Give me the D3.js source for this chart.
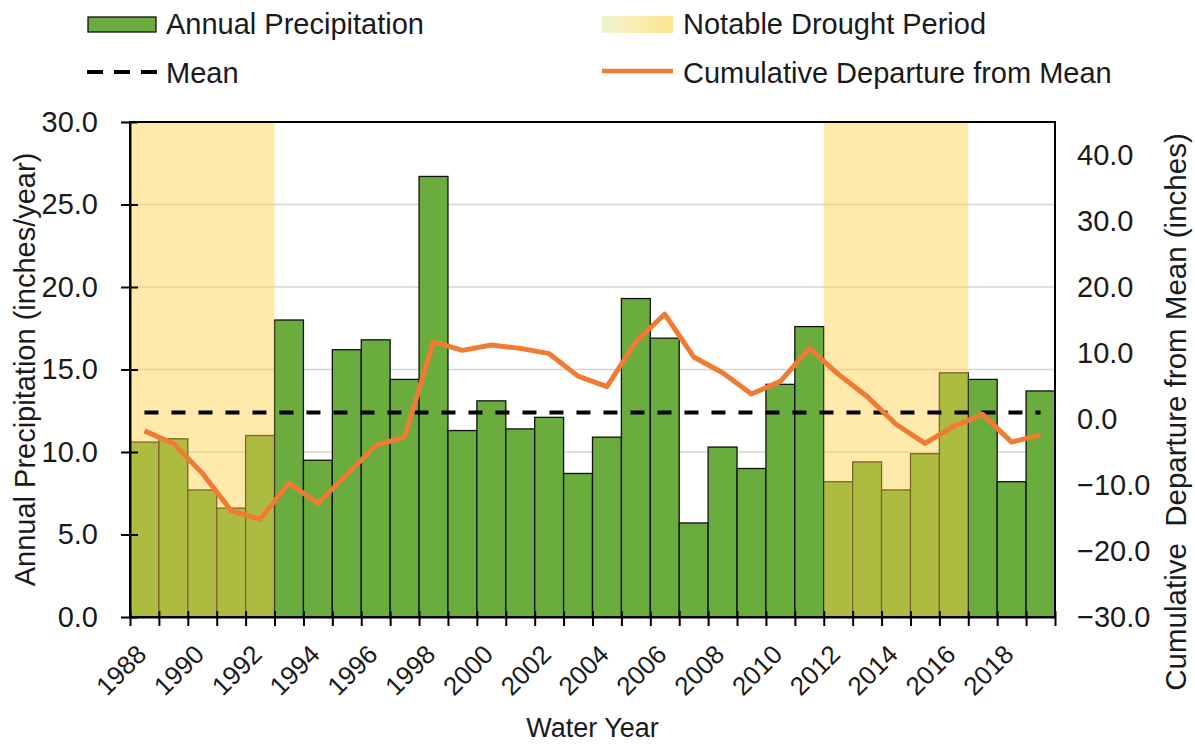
<!DOCTYPE html>
<html>
<head>
<meta charset="utf-8">
<script src="https://cdn.jsdelivr.net/npm/d3@7"></script>
<style>
  body { margin: 0; background: #fff; }
  svg { display: block; font-family: "Liberation Sans", Arial, sans-serif; }
</style>
</head>
<body>
<div id="chart"></div>
<script>
// Water years and annual precipitation (inches/year)
const years = d3.range(1988, 2020);
const precip = [10.6, 10.8, 7.7, 6.6, 11.0, 18.0, 9.5, 16.2, 16.8, 14.4,
                26.7, 11.3, 13.1, 11.4, 12.1, 8.7, 10.9, 19.3, 16.9, 5.7,
                10.3, 9.0, 14.1, 17.6, 8.2, 9.4, 7.7, 9.9, 14.8, 14.4,
                8.2, 13.7];
// Cumulative departure from mean (inches), secondary axis
const cumDeparture = [-1.8, -3.7, -8.2, -13.9, -15.2, -9.7, -12.8, -8.4, -4.0, -2.7,
                      11.7, 10.4, 11.2, 10.7, 9.9, 6.5, 4.9, 11.7, 15.9, 9.4,
                      7.0, 3.8, 5.7, 10.7, 6.8, 3.4, -0.8, -3.7, -1.1, 0.7,
                      -3.5, -2.4];
const meanPrecip = 12.4;
const droughts = [[1988, 1992], [2012, 2016]];
const leftTicks = [0, 5, 10, 15, 20, 25, 30];
const rightTicks = [-30, -20, -10, 0, 10, 20, 30, 40];

const width = 1195, height = 744;
const plot = { left: 130, right: 1055, top: 122, bottom: 617 };

const svg = d3.select("#chart").append("svg")
    .attr("width", width)
    .attr("height", height);

const x = d3.scaleBand().domain(years).range([plot.left, plot.right]).padding(0);
const xEdge = d3.scaleLinear().domain([1988, 2020]).range([plot.left, plot.right]);
const yL = d3.scaleLinear().domain([0, 30]).range([plot.bottom, plot.top]);
const yR = d3.scaleLinear().domain([-30, 45]).range([plot.bottom, plot.top]);

const GREEN = "#6aad3e";
const BAND = "#ffcf45";
const ORANGE = "#f07b32";

// gridlines
svg.append("g")
    .selectAll("line")
    .data(leftTicks.filter(d => d > 0 && d < 30))
    .join("line")
    .attr("x1", plot.left).attr("x2", plot.right)
    .attr("y1", d => yL(d)).attr("y2", d => yL(d))
    .attr("stroke", "#d6d6d6")
    .attr("stroke-width", 1.5);

// bars
svg.append("g")
    .selectAll("rect")
    .data(years.map((y, i) => ({ year: y, value: precip[i] })))
    .join("rect")
    .attr("x", d => x(d.year))
    .attr("y", d => yL(d.value))
    .attr("width", x.bandwidth())
    .attr("height", d => yL(0) - yL(d.value))
    .attr("fill", GREEN)
    .attr("stroke", "#111")
    .attr("stroke-width", 1.3);

// drought bands
svg.append("g")
    .selectAll("rect")
    .data(droughts)
    .join("rect")
    .attr("x", d => x(d[0]))
    .attr("y", plot.top)
    .attr("width", d => x(d[1]) + x.bandwidth() - x(d[0]))
    .attr("height", plot.bottom - plot.top)
    .attr("fill", BAND)
    .attr("opacity", 0.45);

// mean line
svg.append("line")
    .attr("x1", x(years[0]) + x.bandwidth() / 2)
    .attr("x2", x(years[years.length - 1]) + x.bandwidth() / 2)
    .attr("y1", yL(meanPrecip)).attr("y2", yL(meanPrecip))
    .attr("stroke", "#000")
    .attr("stroke-width", 4)
    .attr("stroke-dasharray", "14,13");

// cumulative departure line
const line = d3.line()
    .x((d, i) => x(years[i]) + x.bandwidth() / 2)
    .y(d => yR(d));
svg.append("path")
    .datum(cumDeparture)
    .attr("d", line)
    .attr("fill", "none")
    .attr("stroke", ORANGE)
    .attr("stroke-width", 5)
    .attr("stroke-linejoin", "round");

// frame
svg.append("rect")
    .attr("x", plot.left).attr("y", plot.top)
    .attr("width", plot.right - plot.left)
    .attr("height", plot.bottom - plot.top)
    .attr("fill", "none")
    .attr("stroke", "#000")
    .attr("stroke-width", 2);

// left axis
const leftAxis = svg.append("g")
    .attr("transform", `translate(${plot.left},0)`)
    .call(d3.axisLeft(yL).tickValues(leftTicks).tickFormat(d3.format(".1f")).tickSizeOuter(0));
leftAxis.select(".domain").attr("stroke", "#000").attr("stroke-width", 2);
leftAxis.selectAll(".tick line").attr("x1", -9).attr("x2", 8).attr("stroke-width", 2);
leftAxis.selectAll(".tick text")
    .attr("x", -32)
    .attr("font-size", 29)
    .attr("fill", "#1a1a1a");

// right axis (labels only)
const rightAxis = svg.append("g")
    .attr("transform", `translate(${plot.right},0)`)
    .call(d3.axisRight(yR).tickValues(rightTicks).tickFormat(d3.format(".1f")).tickSize(0));
rightAxis.select(".domain").remove();
rightAxis.selectAll(".tick text")
    .attr("x", 22)
    .attr("font-size", 29)
    .attr("fill", "#1a1a1a");

// bottom axis: tick marks at bar edges
const tickAxis = svg.append("g")
    .attr("transform", `translate(0,${plot.bottom})`)
    .call(d3.axisBottom(xEdge).tickValues(d3.range(1988, 2021)).tickFormat("").tickSizeOuter(0));
tickAxis.select(".domain").attr("stroke", "#000").attr("stroke-width", 2);
tickAxis.selectAll(".tick line").attr("y1", -6).attr("y2", 9).attr("stroke-width", 2);

// bottom axis: rotated year labels
const labelAxis = svg.append("g")
    .attr("transform", `translate(0,${plot.bottom})`)
    .call(d3.axisBottom(x).tickValues(years.filter(y => y % 2 === 0)).tickSize(0));
labelAxis.select(".domain").remove();
labelAxis.selectAll(".tick text")
    .attr("x", 0).attr("y", 0).attr("dy", null)
    .attr("transform", "translate(3.5,39) rotate(-45)")
    .attr("text-anchor", "end")
    .attr("font-size", 26)
    .attr("fill", "#1a1a1a");

// axis titles
svg.append("text")
    .attr("transform", `translate(35,${(plot.top + plot.bottom) / 2}) rotate(-90)`)
    .attr("text-anchor", "middle")
    .attr("font-size", 29)
    .attr("fill", "#1a1a1a")
    .text("Annual Precipitation (inches/year)");

svg.append("text")
    .attr("transform", `translate(1186,412) rotate(-90)`)
    .attr("text-anchor", "middle")
    .attr("font-size", 29.5)
    .attr("fill", "#1a1a1a")
    .style("white-space", "pre")
    .text("Cumulative  Departure from Mean (inches)");

svg.append("text")
    .attr("x", (plot.left + plot.right) / 2)
    .attr("y", 737)
    .attr("text-anchor", "middle")
    .attr("font-size", 27)
    .attr("fill", "#1a1a1a")
    .text("Water Year");

// legend
const legend = svg.append("g").attr("font-size", 29).attr("fill", "#1a1a1a");

legend.append("rect")
    .attr("x", 88).attr("y", 17).attr("width", 68).attr("height", 15)
    .attr("fill", GREEN).attr("stroke", "#111").attr("stroke-width", 1.3);
legend.append("text").attr("x", 166).attr("y", 34).text("Annual Precipitation");

legend.append("line")
    .attr("x1", 87).attr("x2", 157).attr("y1", 72).attr("y2", 72)
    .attr("stroke", "#000").attr("stroke-width", 4)
    .attr("stroke-dasharray", "16,11");
legend.append("text").attr("x", 166).attr("y", 83).text("Mean");

const grad = svg.append("defs").append("linearGradient")
    .attr("id", "bandGrad");
grad.append("stop").attr("offset", "0%").attr("stop-color", "#eef3d2");
grad.append("stop").attr("offset", "35%").attr("stop-color", "#f8efb8");
grad.append("stop").attr("offset", "100%").attr("stop-color", "#fde48e");
legend.append("rect")
    .attr("x", 602).attr("y", 16).attr("width", 71).attr("height", 17)
    .attr("fill", "url(#bandGrad)");
legend.append("text").attr("x", 683).attr("y", 34).text("Notable Drought Period");

legend.append("line")
    .attr("x1", 602).attr("x2", 673).attr("y1", 71).attr("y2", 71)
    .attr("stroke", ORANGE).attr("stroke-width", 4.5);
legend.append("text").attr("x", 683).attr("y", 83).text("Cumulative Departure from Mean");
</script>
</body>
</html>
